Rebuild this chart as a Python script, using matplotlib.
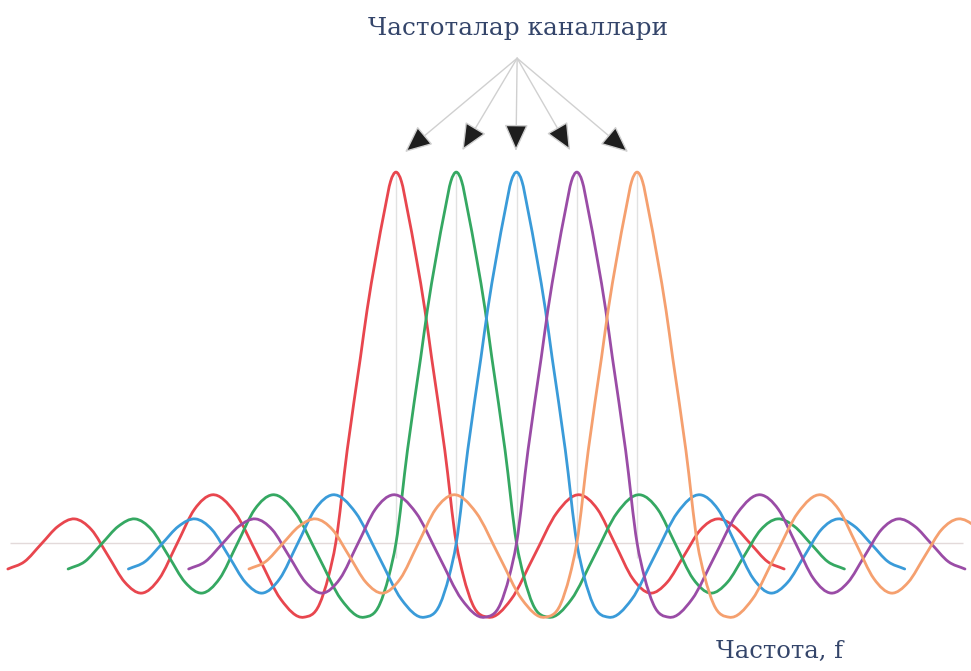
import numpy as np
import matplotlib
matplotlib.use("Agg")
import matplotlib.pyplot as plt
from matplotlib.path import Path
from matplotlib.patches import PathPatch

# channel centres (in units of channel spacing) and colours
centers = [0, 1, 2, 3, 4]
colors = ["#e8464e", "#35a862", "#3a9bd9", "#9a4ca6", "#f5a06f"]

# one side of the channel spectrum shape (mirrored for the other side)
half_offsets = [0.0, 0.09, 0.18, 0.34, 0.48, 0.59, 0.81, 1.0,
                1.12, 1.27, 1.53, 1.91, 2.29, 2.67,
                3.05, 3.343, 3.635, 3.928,
                4.22, 4.498, 4.775, 5.053,
                5.33, 5.608, 5.885, 6.163, 6.44]
half_values = [1.0, 0.975, 0.905, 0.765, 0.628, 0.50, 0.25, 0.0,
               -0.09, -0.165, -0.20, -0.152, -0.035, 0.082,
               0.13, 0.091, -0.0025, -0.096,
               -0.135, -0.106, -0.035, 0.036,
               0.065, 0.045, -0.0025, -0.050, -0.07]

# annotation arrows: common start and tips above each channel
arrow_start = (2.01, 1.307)
arrow_tips_x = [0.15, 1.10, 1.99, 2.89, 3.85]
arrow_tips_y = [1.054, 1.059, 1.057, 1.059, 1.054]

title_text = "Частоталар каналлари"
axis_text = "Частота, f"


def smooth_path(xs, ys):
    # cubic Hermite pieces through the read points, as Bezier segments
    xs = np.asarray(xs, float)
    ys = np.asarray(ys, float)
    m = np.gradient(ys, xs)
    verts = [(xs[0], ys[0])]
    codes = [Path.MOVETO]
    for i in range(len(xs) - 1):
        h = xs[i + 1] - xs[i]
        verts += [(xs[i] + h / 3, ys[i] + m[i] * h / 3),
                  (xs[i + 1] - h / 3, ys[i + 1] - m[i + 1] * h / 3),
                  (xs[i + 1], ys[i + 1])]
        codes += [Path.CURVE4] * 3
    return Path(verts, codes)


fig = plt.figure(figsize=(9.71, 6.71), dpi=100)
ax = fig.add_axes([0, 0, 1, 1])
ax.set_xlim(-6.57, 9.54)
ax.set_ylim(-0.345, 1.464)
ax.axis("off")

# faint baseline and centre markers
ax.hlines(0, -6.41, 9.41, color="#e3dada", lw=1, zorder=1)
ax.vlines(centers, -0.04, 1.0, color="#e2e2e2", lw=1, zorder=1)

offsets = np.concatenate([-np.array(half_offsets[::-1]), np.array(half_offsets[1:])])
values = np.concatenate([np.array(half_values[::-1]), np.array(half_values[1:])])

for c, col in zip(centers, colors):
    p = smooth_path(offsets + c, values)
    ax.add_patch(PathPatch(p, fill=False, edgecolor=col, lw=2.0, zorder=2,
                           capstyle="round", joinstyle="round"))

for tx, ty in zip(arrow_tips_x, arrow_tips_y):
    ax.annotate("", xy=(tx, ty), xytext=arrow_start,
                arrowprops=dict(arrowstyle="-|>,head_length=0.85,head_width=0.38",
                                mutation_scale=20, fc="#1e1e1e", ec="#d0d0d0",
                                lw=1, shrinkA=0, shrinkB=0))

ax.text(2.02, 1.369, title_text, ha="center", va="baseline",
        fontsize=17.8, family="DejaVu Serif", color="#34456a")
ax.text(6.37, -0.31, axis_text, ha="center", va="baseline",
        fontsize=17.5, family="DejaVu Serif", color="#34456a")

fig.savefig("out.png", dpi=100)
